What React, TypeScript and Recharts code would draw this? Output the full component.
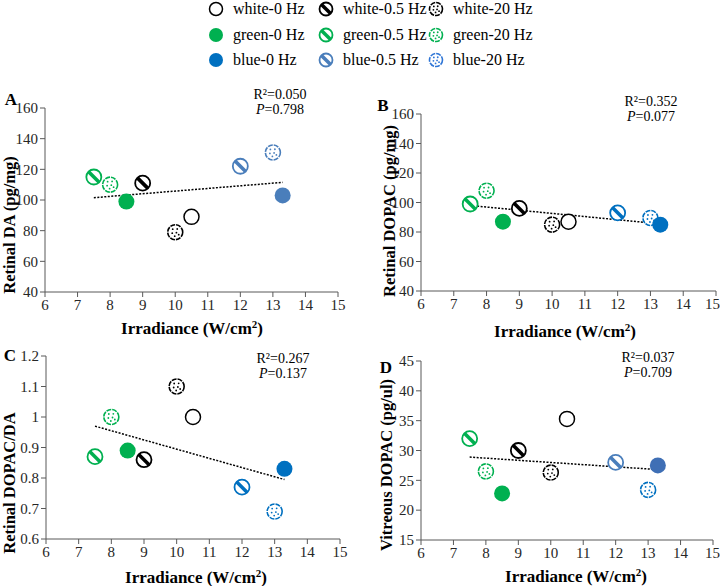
import React from 'react';
import { ScatterChart, Scatter, XAxis, YAxis, ReferenceLine } from 'recharts';

// group order shared by every panel
const groups = ['green-0.5', 'green-20', 'green-0', 'white-0.5', 'white-20', 'white-0', 'blue-0.5', 'blue-20', 'blue-0'];
const irradiance = [7.5, 8, 8.5, 9, 10, 10.5, 12, 13, 13.3];

const retinalDA = [115, 110, 99, 111, 79, 89, 122, 131, 103];
const retinalDOPAC = [99, 108, 87, 96, 85, 87, 93, 89.5, 85];
const dopacRatio = [0.87, 1.0, 0.89, 0.86, 1.1, 1.0, 0.77, 0.69, 0.83];
const vitreousDOPAC = [32, 26.5, 22.8, 30, 26.3, 35.3, 28, 23.4, 27.5];

// trend line end points [x1, y1, x2, y2]
const trendA = [7.5, 101.5, 13.3, 111.5];
const trendB = [7.5, 98, 13.3, 85.5];
const trendC = [7.5, 0.97, 13.3, 0.795];
const trendD = [7.5, 28.9, 13.3, 26.8];

const statsA = ['R²=0.050', '0.798'];
const statsB = ['R²=0.352', '0.077'];
const statsC = ['R²=0.267', '0.137'];
const statsD = ['R²=0.037', '0.709'];

const xTicks = [6, 7, 8, 9, 10, 11, 12, 13, 14, 15];
const ticksDA = [40, 60, 80, 100, 120, 140, 160];
const ticksRatio = [0.6, 0.7, 0.8, 0.9, 1, 1.1, 1.2];
const ticksVit = [15, 20, 25, 30, 35, 40, 45];

const legendRows = [
  ['white-0 Hz', 'white-0.5 Hz', 'white-20 Hz'],
  ['green-0 Hz', 'green-0.5 Hz', 'green-20 Hz'],
  ['blue-0 Hz', 'blue-0.5 Hz', 'blue-20 Hz'],
];

const GREEN = '#00b050';
const SERIF = '"Liberation Serif", "Times New Roman", serif';
const AXIS = '#595959';

const baseColor = (g: string, blue: string) =>
  g.startsWith('green') ? GREEN : g.startsWith('blue') ? blue : '#000';

function Marker({ cx, cy, group, color, r = 7.5 }: any) {
  const freq = group.split('-')[1];
  if (freq === '0') {
    if (group.startsWith('white')) {
      return <circle cx={cx} cy={cy} r={r} fill="#fff" stroke="#000" strokeWidth={1.5} />;
    }
    return <circle cx={cx} cy={cy} r={r + 0.5} fill={color} />;
  }
  if (freq === '0.5') {
    const d = r * 0.7;
    return (
      <g>
        <circle cx={cx} cy={cy} r={r} fill="#fff" stroke={color} strokeWidth={1.8} />
        <line x1={cx - d} y1={cy - d} x2={cx + d} y2={cy + d} stroke={color} strokeWidth={3.6} />
      </g>
    );
  }
  const dots = [[-2.5, -3], [2, -3.2], [-3, 1], [1.2, 0.5], [-0.5, 4], [3.5, 2.5]];
  return (
    <g>
      <circle cx={cx} cy={cy} r={r} fill="#fff" stroke={color} strokeWidth={1.6} strokeDasharray="5 1" />
      {dots.map((p, i) => (
        <circle key={i} cx={cx + p[0] * r / 7.5} cy={cy + p[1] * r / 7.5} r={0.9} fill={color} />
      ))}
    </g>
  );
}

interface PanelProps {
  left: number;
  top: number;
  width: number;
  height: number;
  yWidth: number;
  margin: { top: number; right: number; bottom: number; left: number };
  xHeight: number;
  values: number[];
  yTicks: number[];
  trend: number[];
  blues: string[];
}

function Panel({ left, top, width, height, yWidth, margin, xHeight, values, yTicks, trend, blues }: PanelProps) {
  const data = groups.map((g, i) => ({ x: irradiance[i], y: values[i], group: g, color: baseColor(g, blues[i]) }));
  const tick = { fill: '#262626', fontSize: 15, fontFamily: SERIF };
  return (
    <div style={{ position: 'absolute', left, top }}>
      <ScatterChart width={width} height={height} margin={margin}>
        <XAxis
          type="number"
          dataKey="x"
          domain={[6, 15]}
          ticks={xTicks}
          height={xHeight}
          tick={tick}
          stroke={AXIS}
          tickSize={5}
          allowDataOverflow
        />
        <YAxis
          type="number"
          dataKey="y"
          domain={[yTicks[0], yTicks[yTicks.length - 1]]}
          ticks={yTicks}
          width={yWidth}
          tick={tick}
          stroke={AXIS}
          tickSize={5}
          interval={0}
        />
        <ReferenceLine
          segment={[{ x: trend[0], y: trend[1] }, { x: trend[2], y: trend[3] }]}
          stroke="#000"
          strokeWidth={1.5}
          strokeDasharray="2 1.5"
          ifOverflow="visible"
        />
        <Scatter
          data={data}
          isAnimationActive={false}
          shape={(p: any) => <Marker cx={p.cx} cy={p.cy} group={p.payload.group} color={p.payload.color} />}
        />
      </ScatterChart>
    </div>
  );
}

const txt = (x: number, y: number, s: React.ReactNode, extra: React.CSSProperties = {}) => (
  <div
    style={{
      position: 'absolute',
      left: x,
      top: y,
      transform: 'translate(-50%, -50%)',
      whiteSpace: 'nowrap',
      fontFamily: SERIF,
      color: '#000',
      ...extra,
    }}
  >
    {s}
  </div>
);

const yLabel = (x: number, y: number, s: string) =>
  txt(x, y, s, { transform: 'translate(-50%, -50%) rotate(-90deg)', fontWeight: 'bold', fontSize: 16.5 });

const xLabel = (x: number, y: number) =>
  txt(x, y, <span>Irradiance (W/cm<sup style={{ fontSize: 11 }}>2</sup>)</span>, { fontWeight: 'bold', fontSize: 17 });

const stats = (x: number, y: number, s: string[]) => (
  <>
    {txt(x, y, s[0], { fontSize: 14 })}
    {txt(x, y + 15, <span><i>P</i>={s[1]}</span>, { fontSize: 14 })}
  </>
);

function LegendIcon({ label }: { label: string }) {
  const group = label.replace(' Hz', '');
  const blueByFreq: Record<string, string> = { '0': '#0070c0', '0.5': '#4a7ebb', '20': '#2e75d6' };
  const color = baseColor(group, blueByFreq[group.split('-')[1]]);
  return (
    <svg width={16} height={16} style={{ verticalAlign: 'middle' }}>
      <Marker cx={8} cy={8} group={group} color={color} r={6.5} />
    </svg>
  );
}

function Legend() {
  const colX = [208, 318, 428];
  return (
    <>
      {legendRows.map((row, ri) =>
        row.map((label, ci) => (
          <div
            key={label}
            style={{
              position: 'absolute',
              left: colX[ci],
              top: ri * 25.5,
              height: 18,
              display: 'flex',
              alignItems: 'center',
              gap: 9,
              fontFamily: SERIF,
              fontSize: 16,
              lineHeight: '18px',
              whiteSpace: 'nowrap',
            }}
          >
            <LegendIcon label={label} />
            <span>{label}</span>
          </div>
        ))
      )}
    </>
  );
}

export default function App() {
  const blueA = Array(9).fill('#4a7ebb');
  const blueB = Array(9).fill('#0070c0');
  const blueD = ['', '', '', '', '', '', '#4a7ebb', '#0070c0', '#3f6fb5'];
  return (
    <div style={{ position: 'fixed', left: 0, top: 0, width: 720, height: 586, background: '#fff', overflow: 'hidden' }}>
      <Legend />

      <Panel left={0} top={80} width={360} height={240} yWidth={45} xHeight={28}
        margin={{ top: 28, right: 22, bottom: 0, left: 0 }}
        values={retinalDA} yTicks={ticksDA} trend={trendA} blues={blueA} />
      <Panel left={360} top={80} width={360} height={240} yWidth={61} xHeight={29}
        margin={{ top: 34, right: 4, bottom: 0, left: 0 }}
        values={retinalDOPAC} yTicks={ticksDA} trend={trendB} blues={blueB} />
      <Panel left={0} top={320} width={360} height={250} yWidth={46} xHeight={31}
        margin={{ top: 36, right: 20, bottom: 0, left: 0 }}
        values={dopacRatio} yTicks={ticksRatio} trend={trendC} blues={blueB} />
      <Panel left={360} top={320} width={360} height={250} yWidth={61} xHeight={30}
        margin={{ top: 41, right: 7, bottom: 0, left: 0 }}
        values={vitreousDOPAC} yTicks={ticksVit} trend={trendD} blues={blueD} />

      {txt(11, 100, 'A', { fontWeight: 'bold', fontSize: 17 })}
      {txt(383, 106, 'B', { fontWeight: 'bold', fontSize: 17 })}
      {txt(10, 356, 'C', { fontWeight: 'bold', fontSize: 17 })}
      {txt(386, 368, 'D', { fontWeight: 'bold', fontSize: 17 })}

      {stats(280, 95, statsA)}
      {stats(651, 102, statsB)}
      {stats(283, 359, statsC)}
      {stats(648, 358, statsD)}

      {yLabel(10, 225, 'Retinal DA (pg/mg)')}
      {yLabel(390, 211, 'Retinal DOPAC (pg/mg)')}
      {yLabel(10, 483, 'Retinal DOPAC/DA')}
      {yLabel(387, 465, 'Vitreous DOPAC (pg/ul)')}

      {xLabel(192, 328)}
      {xLabel(565, 331)}
      {xLabel(196, 577)}
      {xLabel(576, 576)}
    </div>
  );
}
